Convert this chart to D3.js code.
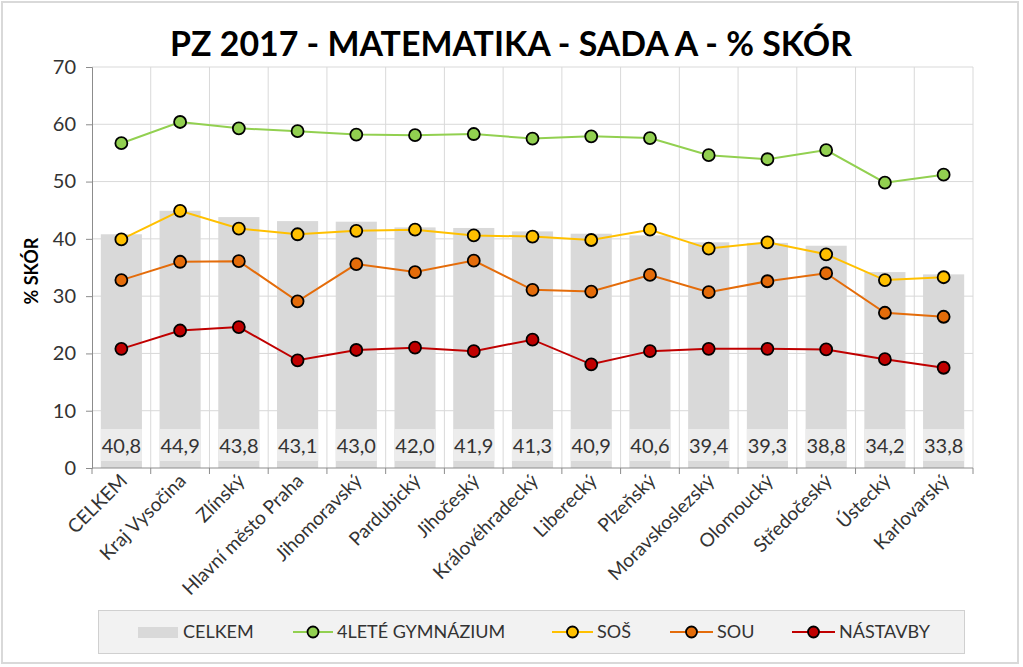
<!DOCTYPE html>
<html><head><meta charset="utf-8">
<script src="https://cdn.jsdelivr.net/npm/d3@7/dist/d3.min.js"></script>
<style>
html,body{margin:0;padding:0;background:#fff;}
svg{display:block;font-family:Lato,"Open Sans",sans-serif;}
</style></head>
<body><svg id="c" width="1023" height="667"></svg>
<script>
const categories = ["CELKEM","Kraj Vysočina","Zlínský","Hlavní město Praha","Jihomoravský","Pardubický","Jihočeský","Královéhradecký","Liberecký","Plzeňský","Moravskoslezský","Olomoucký","Středočeský","Ústecký","Karlovarský"];
const celkem = [40.8,44.9,43.8,43.1,43.0,42.0,41.9,41.3,40.9,40.6,39.4,39.3,38.8,34.2,33.8];
const gymnazium = [56.7,60.4,59.3,58.8,58.2,58.1,58.3,57.5,57.9,57.6,54.6,53.9,55.5,49.8,51.2];
const sos = [39.9,44.9,41.8,40.8,41.4,41.6,40.6,40.4,39.8,41.6,38.3,39.4,37.3,32.8,33.3];
const sou = [32.8,36.0,36.1,29.1,35.6,34.2,36.2,31.1,30.8,33.7,30.7,32.6,34.0,27.1,26.4];
const nastavby = [20.8,24.0,24.6,18.8,20.6,21.0,20.4,22.4,18.1,20.4,20.8,20.8,20.7,19.0,17.5];
const yTicks = [0,10,20,30,40,50,60,70];
const seriesNames = ["4LETÉ GYMNÁZIUM","SOŠ","SOU","NÁSTAVBY"];

const svg = d3.select("#c");
svg.append("rect").attr("x",2).attr("y",2).attr("width",1016).attr("height",661)
  .attr("fill","#fff").attr("stroke","#d9d9d9").attr("stroke-width",2);

const L=92,R=973,T=67,B=468;
const x = d3.scaleBand().domain(categories).range([L,R]).paddingInner(0).paddingOuter(0);
const y = d3.scaleLinear().domain([0,70]).range([B,T]);

// title
const title = svg.append("text").attr("x",511).attr("y",56).attr("text-anchor","middle")
  .attr("font-weight","bold").attr("font-size",34).attr("fill","#000")
  .text("PZ 2017 - MATEMATIKA - SADA A - % SKÓR");
const tw = title.node().getComputedTextLength();
title.attr("font-size",34*682/tw);

// gridlines
svg.append("g").selectAll("line").data(yTicks.filter(d=>d>0)).join("line")
  .attr("x1",L).attr("x2",R).attr("y1",d=>y(d)).attr("y2",d=>y(d))
  .attr("stroke","#d9d9d9").attr("stroke-width",1);
const bounds = categories.map(c=>x(c)).concat([R]);
svg.append("g").selectAll("line").data(bounds.slice(1)).join("line")
  .attr("x1",d=>d).attr("x2",d=>d).attr("y1",T).attr("y2",B)
  .attr("stroke","#d9d9d9").attr("stroke-width",1);

// bars
const bw = x.bandwidth()*0.7;
const bars = svg.append("g");
bars.selectAll("rect").data(celkem).join("rect")
  .attr("x",(d,i)=>x(categories[i])+x.bandwidth()/2-bw/2).attr("width",bw)
  .attr("y",d=>y(d)).attr("height",d=>B-y(d)).attr("fill","#d9d9d9");
// label boxes
bars.selectAll("rect.lb").data(celkem).join("rect").attr("class","lb")
  .attr("x",(d,i)=>x(categories[i])+x.bandwidth()/2-bw/2).attr("width",bw)
  .attr("y",429).attr("height",32).attr("fill","#ececec");
bars.selectAll("text").data(celkem).join("text")
  .attr("x",(d,i)=>x(categories[i])+x.bandwidth()/2).attr("y",453)
  .attr("text-anchor","middle").attr("font-size",20).attr("fill","#333")
  .text(d=>d.toFixed(1).replace(".",","));

// axes
const yAxis = d3.axisLeft(y).tickValues(yTicks).tickSize(6).tickPadding(10);
const gy = svg.append("g").attr("transform",`translate(${L},0)`).call(yAxis);
gy.select(".domain").attr("stroke","#8c8c8c");
gy.selectAll(".tick line").attr("stroke","#8c8c8c");
gy.selectAll("text").attr("font-size",20).attr("fill","#333").attr("font-family","Lato,'Open Sans',sans-serif");

svg.append("line").attr("x1",L).attr("x2",R).attr("y1",B).attr("y2",B).attr("stroke","#8c8c8c");
svg.append("g").selectAll("line").data(bounds).join("line")
  .attr("x1",d=>d).attr("x2",d=>d).attr("y1",B).attr("y2",B+6).attr("stroke","#8c8c8c");
svg.append("g").selectAll("text").data(categories).join("text")
  .attr("transform",d=>`translate(${x(d)+x.bandwidth()/2+7},${B+14}) rotate(-45)`)
  .attr("text-anchor","end").attr("font-size",19).attr("fill","#333").text(d=>d);

svg.append("text").attr("transform","translate(38,271) rotate(-90)").attr("text-anchor","middle")
  .attr("font-weight","bold").attr("font-size",18).attr("fill","#000").text("% SKÓR");

// lines
const colors = ["#92d050","#ffc000","#e46c0a","#c00000"];
const data = [gymnazium,sos,sou,nastavby];
const line = d3.line().x((d,i)=>x(categories[i])+x.bandwidth()/2).y(d=>y(d));
data.forEach((s,k)=>{
  svg.append("path").datum(s).attr("d",line).attr("fill","none").attr("stroke",colors[k]).attr("stroke-width",2);
});
data.forEach((s,k)=>{
  svg.append("g").selectAll("circle").data(s).join("circle")
    .attr("cx",(d,i)=>x(categories[i])+x.bandwidth()/2).attr("cy",d=>y(d)).attr("r",6)
    .attr("fill",colors[k]).attr("stroke","#000").attr("stroke-width",1.8);
});

// legend
svg.append("rect").attr("x",98.5).attr("y",610.5).attr("width",866).attr("height",43)
  .attr("fill","#f2f2f2").attr("stroke","#d0d0d0");
const ly = 632;
svg.append("rect").attr("x",138).attr("y",627).attr("width",40).attr("height",11).attr("fill","#d9d9d9");
svg.append("text").attr("x",183).attr("y",ly+6).attr("font-size",18).attr("fill","#333").text("CELKEM");
const legX = [293,552,670,792];
const legTX = [337,597,717,839];
seriesNames.forEach((n,k)=>{
  const x0 = legX[k], w = legTX[k]-4-x0;
  svg.append("line").attr("x1",x0).attr("x2",x0+w).attr("y1",ly).attr("y2",ly).attr("stroke",colors[k]).attr("stroke-width",2);
  svg.append("circle").attr("cx",x0+w/2).attr("cy",ly).attr("r",5.5).attr("fill",colors[k]).attr("stroke","#000").attr("stroke-width",1.8);
  svg.append("text").attr("x",legTX[k]).attr("y",ly+6).attr("font-size",18).attr("fill","#333").text(n);
});
</script></body></html>
